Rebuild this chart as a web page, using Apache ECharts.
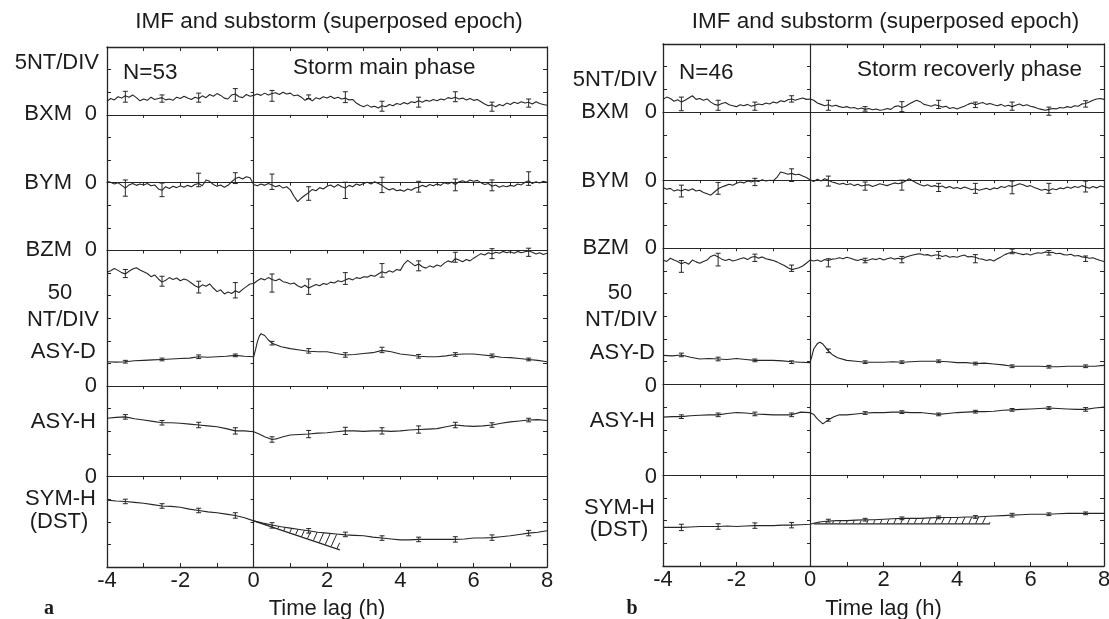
<!DOCTYPE html>
<html><head><meta charset="utf-8">
<script src="https://cdn.jsdelivr.net/npm/echarts@6/dist/echarts.min.js"></script>
<style>html,body{margin:0;padding:0;background:#fff}#c{width:1109px;height:619px}</style>
</head><body><div id="c"></div><script>
// ---------------- DATA ----------------
const xTickLabels = ['-4','-2','0','2','4','6','8'];
const bStart = -4, bStep = 0.1;
const barTimes = [-3.5,-2.5,-1.5,-0.5,0.5,1.5,2.5,3.5,4.5,5.5,6.5,7.5];

// Panel a : storm main phase (N=53)
const bxmA = [3.0,3.6,3.3,4.0,3.7,4.2,3.9,4.4,3.8,3.1, 3.5,3.2,3.9,3.4,3.6,3.8,3.3,3.5,3.2,3.9, 3.6,4.1,3.7,3.4,3.9,3.6,4.2,3.8,4.5,4.1, 4.7,4.3,3.7,3.5,4.4,4.6,4.0,3.8,4.5,4.1, 4.3,4.6,4.3,4.8,4.4,4.7,4.9,4.5,5.0,4.6, 4.8,4.2,4.4,3.9,3.2,3.6,3.1,3.8,3.5,4.0, 3.7,4.1,3.6,3.9,3.5,3.7,3.3,3.4,2.6,2.1, 1.8,2.2,1.7,1.9,1.5,2.0,1.8,2.3,2.0,2.5, 2.3,2.7,2.4,2.9,2.7,3.1,2.8,3.2,3.0,3.4, 3.1,3.5,3.3,3.8,3.6,3.9,3.5,3.7,3.3,3.6, 3.2,3.4,2.9,2.4,2.0,2.2,1.8,2.3,2.0,2.6, 2.3,2.8,2.5,2.9,2.6,2.8,2.4,2.9,2.5,2.3, 2.1];
const bymA = [0.3,0.1,-0.3,0.0,-0.6,-1.2,-0.5,-0.2,-0.6,-0.3, -0.5,-0.2,-0.7,-0.5,-1.4,-1.7,-0.9,-1.3,-0.8,-1.1, -0.7,-1.0,-0.6,-0.9,-0.4,-0.2,-0.7,0.6,0.3,-0.4, -0.8,-0.5,-1.0,-0.6,0.2,0.9,1.2,0.8,1.3,1.1, -0.4,-0.7,-0.3,-0.6,-0.2,-0.5,-0.9,-0.6,-1.2,-0.9, -1.6,-3.0,-4.2,-3.4,-2.8,-2.2,-1.5,-1.8,-1.1,-1.4, -0.8,-0.5,-1.0,-0.4,-0.9,-1.2,-0.6,-0.9,-0.3,-0.6, -0.2,0.1,-0.3,0.2,-0.2,-0.6,-1.2,-1.6,-1.3,-1.8, -1.6,-1.9,-1.4,-1.7,-1.2,-1.0,-0.6,-0.9,-0.4,-0.7, -0.3,-0.6,0.0,-0.3,0.1,-0.4,0.2,0.4,0.1,0.6, 0.3,0.5,0.0,-0.4,-0.2,-0.8,-0.5,-1.0,-0.7,-0.9, -0.6,-0.8,-0.3,-0.5,0.1,0.4,-0.2,0.2,-0.1,0.3, 0.1];
const bzmA = [-4.8,-4.5,-4.0,-4.4,-4.9,-5.2,-4.6,-4.1,-3.8,-4.3, -4.7,-5.1,-5.8,-5.4,-6.3,-7.0,-6.6,-6.0,-6.4,-6.1, -6.7,-6.3,-6.6,-7.2,-7.8,-8.2,-7.6,-7.9,-7.4,-8.3, -9.1,-8.7,-9.6,-9.2,-9.5,-8.9,-9.3,-8.6,-8.0,-7.4, -7.3,-6.7,-6.2,-6.5,-6.0,-6.4,-6.7,-6.3,-6.9,-7.1, -7.4,-7.2,-7.8,-8.2,-7.7,-8.3,-7.9,-7.5,-7.8,-7.3, -7.5,-7.0,-7.2,-6.7,-6.9,-6.5,-6.2,-6.5,-6.0,-6.2, -5.8,-5.9,-5.5,-5.7,-5.2,-4.7,-5.0,-4.5,-4.8,-4.2, -4.4,-3.0,-2.2,-2.8,-3.4,-3.0,-3.6,-3.9,-3.4,-3.7, -3.2,-3.5,-2.8,-2.3,-2.6,-1.8,-2.1,-2.5,-2.0,-2.3, -1.7,-1.2,-0.7,-1.0,-0.5,-0.8,-0.4,-0.6,-0.2,-0.5, -0.3,-0.6,-0.2,-0.5,-0.3,-0.1,-0.4,-0.8,-0.5,-0.9, -0.6];
const bxmBarA = [4.0,3.6,3.8,4.4,4.2,4.0,3.9,1.9,2.8,4.0,1.8,2.6];
const bxmHalfA = [1.2,0.8,1.0,1.4,1.2,0.4,1.2,1.1,1.1,1.1,1.0,0.9];
const bymBarA = [-1.2,-1.6,0.6,1.0,0.2,-2.4,-1.7,-0.5,-0.9,-0.5,-0.6,0.9];
const bymHalfA = [1.8,1.5,1.5,1.2,1.7,1.5,1.8,1.7,1.2,1.3,1.2,1.5];
const bzmBarA = [-5.1,-6.8,-8.1,-8.8,-7.2,-8.0,-6.2,-4.4,-3.4,-1.5,-0.7,-0.4];
const bzmHalfA = [0.9,1.1,1.3,1.7,2.0,1.7,1.3,1.5,1.1,1.1,1.1,0.9];
const asyDA = [[-4,54],[-3.75,53],[-3.5,54],[-3.25,56],[-3,57],[-2.75,58],[-2.5,59],[-2.25,60],[-2,61],[-1.75,62],[-1.5,65],[-1.25,64],[-1,65],[-0.75,66],[-0.5,68],[-0.25,66],[0,65],[0.05,80],[0.1,98],[0.15,110],[0.2,116],[0.3,112],[0.4,102],[0.5,95],[0.75,87],[1,83],[1.25,80],[1.5,77],[1.75,76],[2,76],[2.25,72],[2.5,69],[2.75,70],[3,72],[3.25,74],[3.5,79],[3.75,76],[4,71],[4.25,69],[4.5,66],[4.75,65],[5,65],[5.25,67],[5.5,70],[5.75,71],[6,71],[6.25,69],[6.5,67],[6.75,64],[7,63],[7.25,61],[7.5,59],[7.75,57],[8,54]];
const asyHA = [[-4,71],[-3.75,69],[-3.5,68],[-3.25,72],[-3,75],[-2.75,78],[-2.5,81],[-2.25,81],[-2,82],[-1.75,84],[-1.5,86],[-1.25,88],[-1,90],[-0.75,94],[-0.5,99],[-0.25,99],[0,101],[0.15,106],[0.3,112],[0.5,118],[0.65,116],[0.8,112],[1,108],[1.25,107],[1.5,106],[1.75,104],[2,103],[2.25,101],[2.5,99],[2.75,99],[3,100],[3.25,99],[3.5,99],[3.75,100],[4,99],[4.25,97],[4.5,96],[4.75,95],[5,94],[5.25,90],[5.5,86],[5.75,88],[6,89],[6.25,88],[6.5,86],[6.75,82],[7,79],[7.25,77],[7.5,75],[7.75,74],[8,76]];
const symA = [[-4,-52],[-3.75,-54],[-3.5,-55],[-3.25,-57],[-3,-59],[-2.75,-62],[-2.5,-65],[-2.25,-66],[-2,-68],[-1.75,-72],[-1.5,-75],[-1.25,-78],[-1,-80],[-0.75,-83],[-0.5,-86],[-0.25,-91],[0,-98],[0.25,-103],[0.5,-107],[0.75,-111],[1,-114],[1.25,-117],[1.5,-120],[1.75,-123],[2,-125],[2.25,-127],[2.5,-129],[2.75,-130],[3,-131],[3.25,-134],[3.5,-136],[3.75,-138],[4,-140],[4.25,-140],[4.5,-139],[4.75,-139],[5,-139],[5.25,-139],[5.5,-139],[5.75,-138],[6,-136],[6.25,-136],[6.5,-135],[6.75,-133],[7,-131],[7.25,-128],[7.5,-125],[7.75,-123],[8,-120]];
const symRefA = [[0,-98],[2.35,-162]];
const asyDBarA = [54,59,65,68,95,78,69,80,66,70,67,59];
const asyDHalfA = [3,3,4,3,4,5,5,6,4,4,4,3];
const asyHBarA = [68,81,86,99,118,106,99,99,96,86,86,75];
const asyHHalfA = [5,5,6,7,6,8,8,7,8,6,5,4];
const symBarA = [-55,-65,-75,-86,-108,-120,-128,-136,-139,-139,-135,-125];
const symHalfA = [5,5,5,6,6,5,5,5,5,6,6,6];

// Panel b : storm recovery phase (N=46)
const bxmB = [2.8,3.3,3.0,2.4,2.7,2.2,2.6,3.1,3.6,2.8, 3.0,2.6,2.9,2.2,1.7,1.5,1.9,2.1,1.6,1.4, 1.2,1.6,1.4,1.7,1.3,1.5,1.8,1.6,2.0,1.8, 2.2,2.0,2.5,2.3,2.7,2.9,2.6,2.9,3.1,2.8, 2.9,2.6,2.0,1.7,1.4,1.6,1.3,1.5,1.2,1.0, 1.2,0.9,1.0,0.7,0.9,0.6,0.8,0.5,0.7,0.4, 0.5,0.8,0.6,1.2,1.4,1.0,1.3,1.8,2.2,2.6, 2.3,1.7,1.5,1.3,1.6,1.4,1.1,1.3,0.8,1.0, 0.7,1.0,1.3,1.7,2.0,1.6,1.9,2.1,1.7,1.9, 1.6,1.4,1.7,1.3,1.5,1.2,1.5,1.8,1.4,1.6, 1.3,1.1,0.8,0.6,0.4,0.6,0.8,0.7,1.0,0.9, 1.2,1.0,1.4,1.3,1.8,1.9,2.2,2.6,2.9,3.0, 2.8];
const bymB = [-1.6,-2.0,-1.8,-2.4,-2.1,-2.4,-2.0,-2.3,-1.9,-2.4, -2.2,-2.7,-3.0,-3.3,-2.6,-1.9,-1.5,-1.2,-0.9,-1.1, -0.7,-0.4,-0.6,-0.2,-0.4,-0.1,-0.3,0.1,-0.2,0.0, -0.1,0.6,1.8,1.6,1.3,1.5,1.2,1.3,0.9,0.6, 0.1,-0.3,0.2,-0.2,0.3,0.0,-0.4,-0.6,-0.9,-0.7, -1.0,-0.8,-1.2,-0.9,-1.3,-1.1,-1.0,-1.4,-1.1,-0.8, -1.0,-1.2,-0.9,-0.6,-0.8,-0.6,-0.2,0.3,-0.2,-0.6, -1.0,-1.3,-1.0,-1.4,-1.2,-1.5,-1.3,-1.7,-1.4,-1.8, -1.6,-1.9,-1.5,-1.8,-2.1,-1.9,-2.2,-2.0,-1.8,-2.1, -1.7,-1.9,-1.4,-1.6,-1.2,-1.4,-1.1,-0.8,-1.0,-1.4, -1.2,-1.6,-1.9,-2.2,-2.0,-2.3,-1.9,-2.1,-1.7,-1.9, -1.5,-1.8,-1.4,-1.6,-1.2,-1.5,-1.8,-1.4,-1.7,-1.3, -1.5];
const bzmB = [-2.6,-2.9,-2.2,-2.6,-2.9,-3.4,-3.1,-3.5,-2.6,-3.0, -3.3,-2.9,-2.6,-1.8,-1.5,-1.9,-2.4,-2.7,-2.4,-2.8, -2.6,-2.3,-2.1,-2.5,-2.0,-1.8,-2.2,-1.9,-2.3,-2.5, -2.7,-3.0,-3.4,-3.8,-4.3,-4.7,-4.5,-4.3,-3.9,-3.3, -2.6,-2.8,-2.6,-2.9,-2.5,-2.7,-2.4,-2.3,-2.1,-2.3, -2.0,-2.2,-2.5,-2.7,-2.4,-2.8,-2.6,-2.3,-2.5,-2.2, -2.6,-2.3,-2.1,-2.4,-2.2,-2.4,-2.0,-1.7,-1.5,-1.3, -1.2,-1.5,-1.4,-1.7,-1.5,-1.5,-1.8,-1.6,-2.0,-1.8, -2.0,-1.7,-1.5,-1.9,-1.8,-2.0,-2.3,-2.4,-2.7,-2.5, -2.8,-2.3,-1.9,-1.4,-1.1,-0.8,-1.0,-1.2,-1.4,-1.2, -1.5,-1.2,-1.0,-1.1,-0.8,-1.0,-0.9,-1.2,-1.1,-1.4, -1.5,-1.3,-1.7,-1.6,-1.9,-2.0,-2.2,-2.1,-2.4,-2.7, -2.9];
const bxmBarB = [1.8,1.5,1.3,2.9,1.5,0.7,1.2,1.7,1.6,1.3,0.2,1.8];
const bxmHalfB = [1.5,1.1,0.9,0.7,1.1,0.5,1.1,0.9,0.6,0.9,0.9,0.7];
const bymBarB = [-2.4,-1.8,-0.4,1.1,-0.2,-1.3,-1.1,-1.6,-1.8,-1.6,-1.8,-1.4];
const bymHalfB = [1.3,1.3,0.8,1.4,1.1,0.9,1.1,0.9,1.1,1.4,1.1,1.2];
const bzmBarB = [-4.0,-2.5,-2.1,-4.4,-3.2,-2.7,-2.5,-1.5,-2.3,-0.7,-1.0,-2.3];
const bzmHalfB = [1.3,1.4,0.8,0.7,0.9,0.5,0.7,0.8,0.9,0.5,0.5,0.6];
const asyDB = [[-4,64],[-3.75,63],[-3.5,65],[-3.25,60],[-3,56],[-2.75,57],[-2.5,56],[-2.25,55],[-2,57],[-1.75,55],[-1.5,53],[-1.25,53],[-1,53],[-0.75,52],[-0.5,50],[-0.25,49],[0,48],[0.05,62],[0.1,78],[0.2,90],[0.27,93],[0.35,89],[0.5,74],[0.6,66],[0.75,59],[1,53],[1.25,51],[1.5,49],[1.75,49],[2,49],[2.25,50],[2.5,49],[2.75,50],[3,51],[3.25,51],[3.5,51],[3.75,50],[4,48],[4.25,48],[4.5,46],[4.75,47],[5,45],[5.25,43],[5.5,40],[5.75,40],[6,40],[6.25,40],[6.5,39],[6.75,39],[7,40],[7.25,40],[7.5,40],[7.75,40],[8,42]];
const asyHB = [[-4,72],[-3.75,71],[-3.5,71],[-3.25,69],[-3,68],[-2.75,67],[-2.5,67],[-2.25,64],[-2,62],[-1.75,63],[-1.5,65],[-1.25,66],[-1,67],[-0.75,67],[-0.5,67],[-0.25,61],[0,62],[0.1,66],[0.2,76],[0.35,87],[0.5,78],[0.65,71],[0.8,67],[1,67],[1.25,65],[1.5,63],[1.75,62],[2,62],[2.25,61],[2.5,61],[2.75,62],[3,62],[3.25,64],[3.5,66],[3.75,64],[4,62],[4.25,61],[4.5,60],[4.75,60],[5,59],[5.25,57],[5.5,56],[5.75,55],[6,54],[6.25,53],[6.5,52],[6.75,53],[7,54],[7.25,55],[7.5,55],[7.75,52],[8,50]];
const symB = [[-4,-115],[-3.75,-115],[-3.5,-115],[-3.25,-114],[-3,-113],[-2.75,-113],[-2.5,-113],[-2.25,-112],[-2,-113],[-1.75,-112],[-1.5,-111],[-1.25,-111],[-1,-111],[-0.75,-110],[-0.5,-110],[-0.25,-109],[0,-108],[0.1,-106],[0.25,-103],[0.5,-101],[0.75,-100],[1,-100],[1.25,-99],[1.5,-98],[1.75,-98],[2,-97],[2.25,-96],[2.5,-95],[2.75,-95],[3,-95],[3.25,-94],[3.5,-93],[3.75,-93],[4,-93],[4.25,-92],[4.5,-92],[4.75,-91],[5,-90],[5.25,-89],[5.5,-88],[5.75,-87],[6,-86],[6.25,-86],[6.5,-86],[6.75,-85],[7,-84],[7.25,-84],[7.5,-84],[7.75,-84],[8,-84]];
const symRefB = [[0.1,-107],[4.9,-107]];
const asyDBarB = [65,56,53,49,74,49,49,51,46,40,39,40];
const asyDHalfB = [4,4,3,3,4,3,3,3,3,3,3,3];
const asyHBarB = [71,67,65,67,78,63,61,66,60,56,52,55];
const asyHHalfB = [4,4,4,4,3,3,3,3,3,3,3,4];
const symBarB = [-115,-113,-111,-110,-100,-98,-95,-93,-92,-88,-86,-84];
const symHalfB = [7,6,6,6,3,3,3,3,3,4,3,3];

// ---------------- CHART ----------------
const INK = '#262626', TXT = '#1c1c1c';
const FONT = '"Liberation Sans", Arial, Helvetica, sans-serif';
const NDIV = 23;

function bPairs(vals) { return vals.map((v, i) => [+(bStart + i * bStep).toFixed(2), v]); }
function barData(c, h) { return barTimes.map((t, i) => [t, c[i], h[i]]); }

function errRender(params, api) {
  const x = api.value(0), c = api.value(1), h = api.value(2);
  const p1 = api.coord([x, c + h]), p2 = api.coord([x, c - h]);
  const w = 2.5, st = {stroke: INK, lineWidth: 1};
  return {type: 'group', children: [
    {type: 'line', shape: {x1: p1[0], y1: p1[1], x2: p2[0], y2: p2[1]}, style: st},
    {type: 'line', shape: {x1: p1[0] - w, y1: p1[1], x2: p1[0] + w, y2: p1[1]}, style: st},
    {type: 'line', shape: {x1: p2[0] - w, y1: p2[1], x2: p2[0] + w, y2: p2[1]}, style: st}
  ]};
}

function hatchRender(trace, ref) {
  return function (params, api) {
    const r = ref.map(p => api.coord(p));
    const tp = trace.filter(p => p[0] >= ref[0][0] - 0.5 && p[0] <= ref[1][0] + 0.5).map(p => api.coord(p));
    function interp(pts, x) {
      for (let i = 0; i < pts.length - 1; i++) {
        const a = pts[i], b = pts[i + 1];
        if (x >= a[0] && x <= b[0]) { const f = (x - a[0]) / ((b[0] - a[0]) || 1); return a[1] + f * (b[1] - a[1]); }
      }
      return x < pts[0][0] ? pts[0][1] : pts[pts.length - 1][1];
    }
    const x0 = r[0][0], x1 = r[1][0], K = 2.2, dc = 15;
    let cmin = Infinity, cmax = -Infinity;
    for (let x = x0; x <= x1; x += 0.5) {
      cmin = Math.min(cmin, K * x + interp(tp, x));
      cmax = Math.max(cmax, K * x + interp(r, x));
    }
    const children = [];
    for (let c = Math.ceil(cmin / dc) * dc; c <= cmax; c += dc) {
      let lo = null, hi = null;
      for (let x = x0; x <= x1; x += 0.25) {
        const y = c - K * x;
        if (y >= interp(tp, x) && y <= interp(r, x)) { if (lo === null) lo = x; hi = x; }
      }
      if (lo !== null && hi - lo > 0.4) children.push({type: 'line', shape: {x1: lo, y1: c - K * lo, x2: hi, y2: c - K * hi}, style: {stroke: INK, lineWidth: 1}});
    }
    return {type: 'group', children};
  };
}

const option = {animation: false, backgroundColor: '#ffffff', grid: [], xAxis: [], yAxis: [], series: [], graphic: []};

function rectOf(P) { return {left: P.left, top: P.top, width: P.width, height: P.height, outerBoundsMode: 'none', containLabel: false}; }

function addPanel(P, traces) {
  const g0 = option.grid.length;
  option.grid.push(rectOf(P));
  const frameLine = {onZero: false, lineStyle: {color: INK, width: 1.3}};
  const frameTick = {show: true, inside: true, length: 4, lineStyle: {color: INK, width: 1}};
  option.xAxis.push({gridIndex: g0, type: 'value', min: -4, max: 8, interval: 1, position: 'bottom',
    axisLine: frameLine, axisTick: frameTick, splitLine: {show: false},
    axisLabel: {show: true, showMinLabel: true, showMaxLabel: true, hideOverlap: false, margin: 3, color: TXT, fontSize: 22, fontFamily: FONT,
      formatter: v => (xTickLabels.indexOf(String(v)) >= 0 ? String(v) : '')}});
  option.xAxis.push({gridIndex: g0, type: 'value', min: -4, max: 8, interval: 1, position: 'top',
    axisLine: frameLine, axisTick: frameTick, splitLine: {show: false}, axisLabel: {show: false}});
  option.yAxis.push({gridIndex: g0, type: 'value', min: 0, max: NDIV, interval: 1, position: 'left',
    axisLine: frameLine, axisTick: frameTick, splitLine: {show: false}, axisLabel: {show: false}});
  option.yAxis.push({gridIndex: g0, type: 'value', min: 0, max: NDIV, interval: 1, position: 'right',
    axisLine: frameLine, axisTick: frameTick, splitLine: {show: false}, axisLabel: {show: false}});

  traces.forEach(tr => {
    const g = option.grid.length;
    option.grid.push(rectOf(P));
    const xi = option.xAxis.length, yi = option.yAxis.length;
    option.xAxis.push({gridIndex: g, type: 'value', min: -4, max: 8, interval: 1, show: !!tr.zeroLine,
      axisLine: {show: true, onZero: true, lineStyle: {color: INK, width: 1.2}},
      axisTick: {show: true, inside: false, length: 3, lineStyle: {color: INK}},
      axisLabel: {show: false}, splitLine: {show: false}});
    option.yAxis.push({gridIndex: g, type: 'value', min: tr.yMin, max: tr.yMax, interval: tr.step, inverse: !!tr.inverse, show: !!tr.vline,
      axisLine: {show: true, onZero: true, lineStyle: {color: INK, width: 1.2}},
      axisTick: {show: true, inside: false, length: 3, lineStyle: {color: INK}},
      axisLabel: {show: false}, splitLine: {show: false}});
    option.series.push({type: 'line', xAxisIndex: xi, yAxisIndex: yi, data: tr.data, showSymbol: false, symbol: 'none',
      silent: true, lineStyle: {color: INK, width: 1.1}, z: 3});
    option.series.push({type: 'custom', xAxisIndex: xi, yAxisIndex: yi, data: tr.bars, renderItem: errRender,
      encode: {x: 0, y: 1}, silent: true, z: 4});
    if (tr.ref) {
      option.series.push({type: 'line', xAxisIndex: xi, yAxisIndex: yi, data: tr.ref, showSymbol: false, symbol: 'none',
        silent: true, lineStyle: {color: INK, width: 1.2}, z: 3});
      option.series.push({type: 'custom', xAxisIndex: xi, yAxisIndex: yi, data: [tr.ref[0]], renderItem: hatchRender(tr.data, tr.ref),
        encode: {x: 0, y: 1}, silent: true, z: 3});
    }
  });
}

const PA = {left: 107, top: 47, width: 440, height: 520};
const PB = {left: 663, top: 44, width: 441, height: 522};

function traceSet(d) {
  return [
    {data: bPairs(d.bxm), bars: barData(d.bxmBar, d.bxmHalf), yMin: -100, yMax: 15, step: 5, zeroLine: true, vline: true},
    {data: bPairs(d.bym), bars: barData(d.bymBar, d.bymHalf), yMin: -85, yMax: 30, step: 5, zeroLine: true},
    {data: bPairs(d.bzm), bars: barData(d.bzmBar, d.bzmHalf), yMin: -70, yMax: 45, step: 5, zeroLine: true},
    {data: d.asyD, bars: barData(d.asyDBar, d.asyDHalf), yMin: -400, yMax: 750, step: 50, zeroLine: true},
    {data: d.asyH, bars: barData(d.asyHBar, d.asyHHalf), yMin: -750, yMax: 400, step: 50, inverse: true},
    {data: d.sym, bars: barData(d.symBar, d.symHalf), yMin: -200, yMax: 950, step: 50, zeroLine: true, ref: d.ref}
  ];
}

addPanel(PA, traceSet({bxm: bxmA, bym: bymA, bzm: bzmA, bxmBar: bxmBarA, bxmHalf: bxmHalfA, bymBar: bymBarA, bymHalf: bymHalfA,
  bzmBar: bzmBarA, bzmHalf: bzmHalfA, asyD: asyDA, asyH: asyHA, sym: symA, ref: symRefA,
  asyDBar: asyDBarA, asyDHalf: asyDHalfA, asyHBar: asyHBarA, asyHHalf: asyHHalfA, symBar: symBarA, symHalf: symHalfA}));
addPanel(PB, traceSet({bxm: bxmB, bym: bymB, bzm: bzmB, bxmBar: bxmBarB, bxmHalf: bxmHalfB, bymBar: bymBarB, bymHalf: bymHalfB,
  bzmBar: bzmBarB, bzmHalf: bzmHalfB, asyD: asyDB, asyH: asyHB, sym: symB, ref: symRefB,
  asyDBar: asyDBarB, asyDHalf: asyDHalfB, asyHBar: asyHBarB, asyHHalf: asyHHalfB, symBar: symBarB, symHalf: symHalfB}));

// ---------------- TEXT ----------------
function T(x, y, text, align, size, family, weight) {
  const f = (weight ? weight + ' ' : '') + (size || 22) + 'px ' + (family || FONT);
  return {type: 'text', x: x, y: y, silent: true, z: 10,
    style: {text: text, fill: TXT, font: f, textAlign: align, align: align, textVerticalAlign: 'middle', verticalAlign: 'middle'}};
}
const G = option.graphic;
function panelText(P, L) {
  const cx = P.left + P.width / 2;
  G.push(T(cx + 2, 22, 'IMF and substorm (superposed epoch)', 'center', 22.5));
  G.push(T(cx, 609, 'Time lag (h)', 'center', 22));
  L.forEach(l => G.push(T(l[0], l[1], l[2], l[3], l[4], l[5], l[6])));
}
panelText(PA, [
  [123, 73, 'N=53', 'left', 22.5], [293, 68, 'Storm main phase', 'left', 22.5],
  [99, 63, '5NT/DIV', 'right'],
  [72, 114, 'BXM', 'right'], [97, 114, '0', 'right'],
  [72, 183, 'BYM', 'right'], [97, 183, '0', 'right'],
  [72, 250, 'BZM', 'right'], [97, 250, '0', 'right'],
  [60, 293, '50', 'center'], [99, 320, 'NT/DIV', 'right'],
  [96, 352, 'ASY-D', 'right'], [97, 386, '0', 'right'],
  [96, 422, 'ASY-H', 'right'], [97, 477, '0', 'right'],
  [96, 499, 'SYM-H', 'right'], [59, 522, '(DST)', 'center'],
  [49, 609, 'a', 'center', 20, '"Liberation Serif", "DejaVu Serif", serif', 'bold']
]);
panelText(PB, [
  [679, 73, 'N=46', 'left', 22.5], [857, 70, 'Storm recoverly phase', 'left', 22.5],
  [657, 80, '5NT/DIV', 'right'],
  [629, 112, 'BXM', 'right'], [657, 112, '0', 'right'],
  [629, 181, 'BYM', 'right'], [657, 181, '0', 'right'],
  [629, 248, 'BZM', 'right'], [657, 248, '0', 'right'],
  [620, 293, '50', 'center'], [657, 320, 'NT/DIV', 'right'],
  [655, 353, 'ASY-D', 'right'], [657, 386, '0', 'right'],
  [655, 421, 'ASY-H', 'right'], [657, 477, '0', 'right'],
  [655, 508, 'SYM-H', 'right'], [619, 530, '(DST)', 'center'],
  [632, 609, 'b', 'center', 20, '"Liberation Serif", "DejaVu Serif", serif', 'bold']
]);

const chart = echarts.init(document.getElementById('c'), null, {renderer: 'canvas', width: 1109, height: 619});
chart.setOption(option);
</script></body></html>
